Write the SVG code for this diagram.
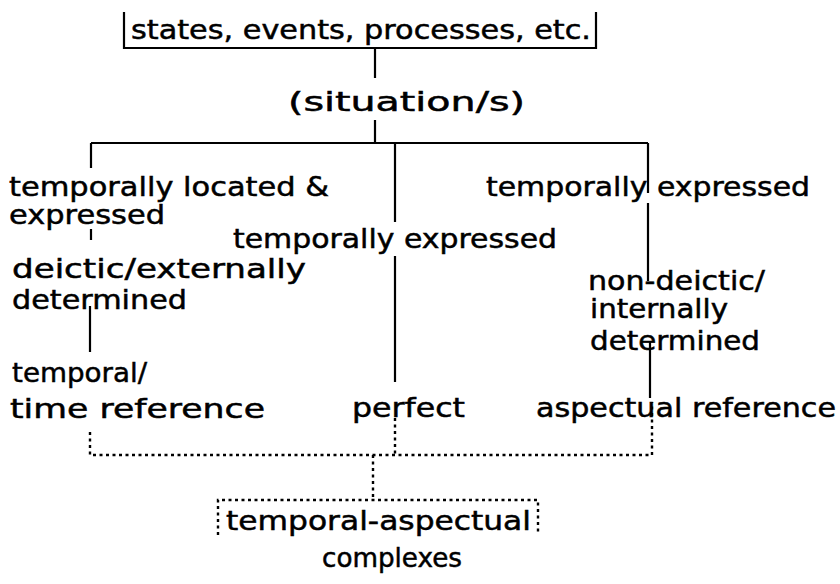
<svg xmlns="http://www.w3.org/2000/svg" width="840" height="584" viewBox="0 0 840 584">
<style>
text{font-family:"DejaVu Sans","Liberation Sans",sans-serif;font-size:27px;fill:#000;stroke:#000;stroke-width:0.5}
.s{stroke:#000;stroke-width:2.2;fill:none}
.d{stroke:#000;stroke-width:2.4;fill:none;stroke-dasharray:3,3.5}
</style>
<rect width="840" height="584" fill="#fff"/>
<g id="connectors">
<path class="s" d="M124,12V48H596V12"/>
<path class="s" d="M375,48V78M375,120V143M91,143H648M91,143V168M395,143V222M395,256V382M648,143V193M648,203V281M91,229V240M90,306V352M650,342V398"/>
<path class="d" d="M90,432V455H652V402M395,418V455M373,455V500M218,535V500H538V535"/>
</g>
<g id="n1"><text x="131" y="39" textLength="460" lengthAdjust="spacingAndGlyphs">states, events, processes, etc.</text></g>
<g id="n2"><text x="288" y="111" textLength="237" lengthAdjust="spacingAndGlyphs">(situation/s)</text></g>
<g id="n3"><text x="9" y="196" textLength="320" lengthAdjust="spacingAndGlyphs">temporally located &amp;</text><text x="9" y="224" textLength="156" lengthAdjust="spacingAndGlyphs">expressed</text></g>
<g id="n4"><text x="233" y="248" textLength="324" lengthAdjust="spacingAndGlyphs">temporally expressed</text></g>
<g id="n5"><text x="486" y="196" textLength="324" lengthAdjust="spacingAndGlyphs">temporally expressed</text></g>
<g id="n6"><text x="12" y="278" textLength="294" lengthAdjust="spacingAndGlyphs">deictic/externally</text><text x="12" y="309" textLength="175" lengthAdjust="spacingAndGlyphs">determined</text></g>
<g id="n7"><text x="588" y="290" textLength="177" lengthAdjust="spacingAndGlyphs">non-deictic/</text><text x="590" y="318" textLength="138" lengthAdjust="spacingAndGlyphs">internally</text><text x="590" y="350" textLength="170" lengthAdjust="spacingAndGlyphs">determined</text></g>
<g id="n8"><text x="12" y="382" textLength="135" lengthAdjust="spacingAndGlyphs">temporal/</text><text x="10" y="418" textLength="255" lengthAdjust="spacingAndGlyphs">time reference</text></g>
<g id="n9"><text x="352" y="417" textLength="113" lengthAdjust="spacingAndGlyphs">perfect</text></g>
<g id="n10"><text x="536" y="417" textLength="300" lengthAdjust="spacingAndGlyphs">aspectual reference</text></g>
<g id="n11"><text x="226" y="530" textLength="305" lengthAdjust="spacingAndGlyphs">temporal-aspectual</text><text x="322" y="567" textLength="140" lengthAdjust="spacingAndGlyphs">complexes</text></g>
</svg>
